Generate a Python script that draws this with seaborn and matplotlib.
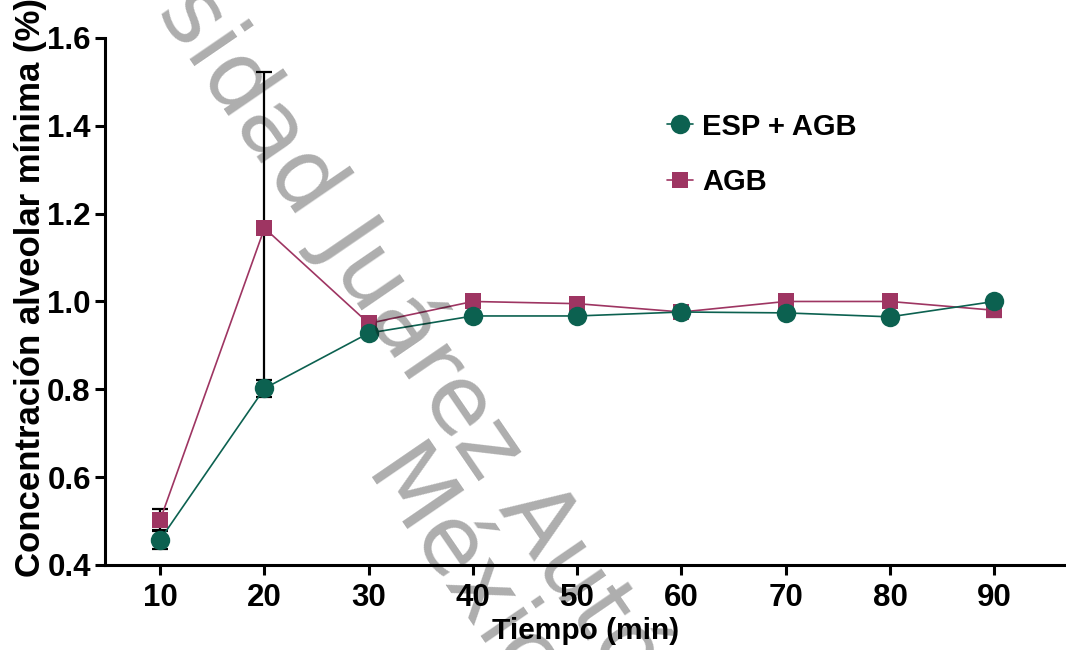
import numpy as np
import pandas as pd
import matplotlib
matplotlib.use("Agg")
import matplotlib.pyplot as plt
import seaborn as sns

# datos
tiempo = [10, 20, 30, 40, 50, 60, 70, 80, 90]
esp_agb = [0.458, 0.802, 0.928, 0.967, 0.967, 0.976, 0.974, 0.965, 1.000]
esp_agb_err = [0.022, 0.020, 0.0, 0.0, 0.0, 0.0, 0.0, 0.0, 0.0]
agb = [0.503, 1.167, 0.950, 1.000, 0.995, 0.976, 1.000, 1.000, 0.980]
agb_err = [0.025, 0.355, 0.0, 0.0, 0.0, 0.0, 0.0, 0.0, 0.015]
grupos = ["ESP + AGB", "AGB"]
y_ticks = [0.4, 0.6, 0.8, 1.0, 1.2, 1.4, 1.6]

verde = "#0c6150"
morado = "#9e3562"

sns.set_style("ticks")
plt.rcParams["font.family"] = ["Liberation Sans", "DejaVu Sans"]
plt.rcParams["font.weight"] = "bold"
plt.rcParams["text.color"] = "black"
plt.rcParams["axes.labelcolor"] = "black"
plt.rcParams["xtick.color"] = "black"
plt.rcParams["ytick.color"] = "black"
plt.rcParams["axes.edgecolor"] = "black"

df = pd.DataFrame({
    "Tiempo": tiempo * 2,
    "CAM": esp_agb + agb,
    "Grupo": [grupos[0]] * len(tiempo) + [grupos[1]] * len(tiempo),
})

fig = plt.figure(figsize=(10.66, 6.5), dpi=100)
ax = fig.add_axes([0.0985, 0.1308, 0.902, 0.8108])

# marca de agua (semitransparente, encima)
marca = dict(rotation=-55.6, rotation_mode="anchor", ha="center",
             va="baseline", fontsize=68, color="black", alpha=0.32,
             fontweight="normal", family="DejaVu Sans", zorder=10)
fig.text(0.501, 0.1340, "Universidad Juárez Autónoma de Tabasco", **marca)
fig.text(0.4264, 0.0569, "México", **marca)

# barras de error
ax.errorbar(tiempo, agb, yerr=agb_err, fmt="none", ecolor="black",
            elinewidth=1.6, capsize=5.5, capthick=1.6, zorder=2)
ax.errorbar(tiempo, esp_agb, yerr=esp_agb_err, fmt="none", ecolor="black",
            elinewidth=1.6, capsize=5.5, capthick=1.6, zorder=2)

sns.lineplot(data=df[df["Grupo"] == "AGB"], x="Tiempo", y="CAM",
             color=morado, marker="s", markersize=12, markeredgewidth=0,
             linewidth=1.2, ax=ax, zorder=3, label="AGB")
sns.lineplot(data=df[df["Grupo"] == "ESP + AGB"], x="Tiempo", y="CAM",
             color=verde, marker="o", markersize=14, markeredgewidth=0,
             linewidth=1.2, ax=ax, zorder=4, label="ESP + AGB")

handles, labels = ax.get_legend_handles_labels()
orden = [labels.index(g) for g in grupos]
ax.legend([handles[i] for i in orden], [labels[i] for i in orden],
          loc="upper left", bbox_to_anchor=(0.557, 0.908), frameon=False,
          handlelength=0.9, handletextpad=0.3, labelspacing=0.95,
          prop={"weight": "bold", "size": 21})

ax.set_xlim(4.7, 96.94)
ax.set_ylim(0.4, 1.6)
ax.set_xticks(tiempo)
ax.set_yticks(y_ticks)
ax.set_yticklabels([f"{v:.1f}" for v in y_ticks])
ax.tick_params(axis="both", labelsize=22.5, width=2.2, length=7.2)
ax.tick_params(axis="x", pad=6)
ax.tick_params(axis="y", pad=3)
for lab in ax.get_xticklabels() + ax.get_yticklabels():
    lab.set_fontweight("bold")

ax.set_xlabel("Tiempo (min)", fontsize=21.5, fontweight="bold", labelpad=3)
ax.set_ylabel("Concentración alveolar mínima (%)", fontsize=25,
              fontweight="bold")
ax.yaxis.set_label_coords(-0.0606, 0.526)

sns.despine(ax=ax)
for s in ["left", "bottom"]:
    ax.spines[s].set_linewidth(2.2)

fig.savefig("out.png", dpi=100)
